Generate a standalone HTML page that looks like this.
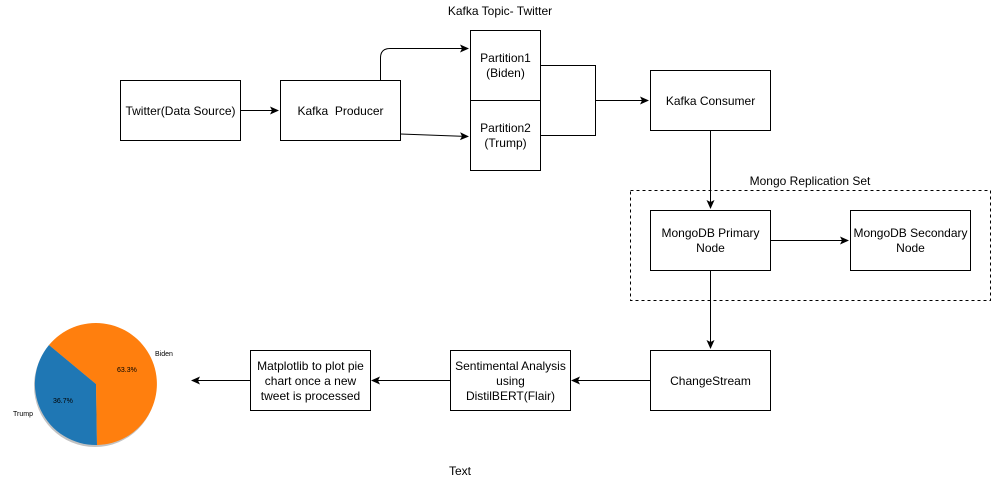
<!DOCTYPE html>
<html><head><meta charset="utf-8"><style>
html,body{margin:0;padding:0;background:#fff;}
svg{display:block;font-family:"Liberation Sans",Arial,sans-serif;}
</style></head><body>
<svg width="992" height="481" viewBox="0 0 992 481" xmlns="http://www.w3.org/2000/svg">
<defs>
<marker id="a" markerWidth="10" markerHeight="10" refX="8" refY="5" orient="auto" markerUnits="userSpaceOnUse">
<path d="M0,1 L9,5 L0,9 L2,5 Z" fill="#000"/>
</marker>
</defs>
<g fill="#fff" stroke="#000" stroke-width="1">
<rect x="120.5" y="80.5" width="120" height="60"/>
<rect x="280.5" y="80.5" width="120" height="60"/>
<rect x="470.5" y="30.5" width="70" height="70"/>
<rect x="470.5" y="100.5" width="70" height="70"/>
<rect x="650.5" y="70.5" width="120" height="60"/>
<rect x="630.5" y="190.5" width="360" height="110" fill="none" stroke-dasharray="3,3"/>
<rect x="650.5" y="210.5" width="120" height="60"/>
<rect x="850.5" y="210.5" width="120" height="60"/>
<rect x="650.5" y="350.5" width="120" height="60"/>
<rect x="450.5" y="350.5" width="120" height="60"/>
<rect x="250.5" y="350.5" width="120" height="60"/>
</g>
<g fill="none" stroke="#000" stroke-width="1">
<path d="M240.5,110.5 H278" marker-end="url(#a)"/>
<path d="M380.5,80 V58 Q380.5,48.5 390,48.5 H468" marker-end="url(#a)"/>
<path d="M400.5,134 L468,136.5" marker-end="url(#a)"/>
<path d="M540.5,65.5 H595.5 V135.5 H540.5"/>
<path d="M595.5,100.5 H648" marker-end="url(#a)"/>
<path d="M710.5,130.5 V208" marker-end="url(#a)"/>
<path d="M770.5,240.5 H848" marker-end="url(#a)"/>
<path d="M710.5,270.5 V348" marker-end="url(#a)"/>
<path d="M650.5,380.5 H572" marker-end="url(#a)"/>
<path d="M450.5,380.5 H372" marker-end="url(#a)"/>
<path d="M250.5,380.5 H192" marker-end="url(#a)"/>
</g>
<g font-size="12" fill="#000" text-anchor="middle">
<text x="180.5" y="115">Twitter(Data Source)</text>
<text x="340.5" y="115">Kafka&#160; Producer</text>
<text x="505.5" y="62">Partition1</text>
<text x="505.5" y="77">(Biden)</text>
<text x="505.5" y="132">Partition2</text>
<text x="505.5" y="147">(Trump)</text>
<text x="500" y="15">Kafka Topic- Twitter</text>
<text x="710.5" y="105">Kafka Consumer</text>
<text x="810" y="185">Mongo Replication Set</text>
<text x="710.5" y="237">MongoDB Primary</text>
<text x="710.5" y="252">Node</text>
<text x="910.5" y="237">MongoDB Secondary</text>
<text x="910.5" y="252">Node</text>
<text x="710.5" y="385">ChangeStream</text>
<text x="510.5" y="370">Sentimental Analysis</text>
<text x="510.5" y="385">using</text>
<text x="510.5" y="400">DistilBERT(Flair)</text>
<text x="310.5" y="370">Matplotlib to plot pie</text>
<text x="310.5" y="385">chart once a new</text>
<text x="310.5" y="400">tweet is processed</text>
<text x="460" y="475">Text</text>
</g>
<circle cx="95" cy="386" r="61" fill="#999" opacity="0.6"/>
<path d="M96,384 L49,345 A61,61 0 0 0 97,445 Z" fill="#1f77b4"/>
<path d="M96,384 L97,445 A61,61 0 1 0 49,345 Z" fill="#ff7f0e"/>
<g font-size="7" fill="#000">
<text x="117" y="372">63.3%</text>
<text x="53" y="403">36.7%</text>
<text x="155" y="356">Biden</text>
<text x="13" y="416">Trump</text>
</g>
</svg>
</body></html>
